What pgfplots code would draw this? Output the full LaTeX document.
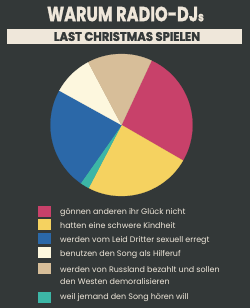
\documentclass[border=0pt]{standalone}
\usepackage{pgfplots}
\pgfplotsset{compat=1.18}
\usepackage{fontspec}
\setmainfont{Poppins}
\newfontfamily\titlefont{Poppins}[FakeBold=1.5]
\definecolor{bg}{HTML}{333838}
\definecolor{fg}{HTML}{EFE7DA}
\definecolor{piepink}{HTML}{C8416A}
\definecolor{pieyellow}{HTML}{F5D260}
\definecolor{pieteal}{HTML}{3CB6A6}
\definecolor{pieblue}{HTML}{2B68A8}
\definecolor{piecream}{HTML}{FDF7DE}
\definecolor{pietan}{HTML}{D7BE99}
\begin{document}
\begin{tikzpicture}
\begin{scope}[x=1bp,y=1bp]
\fill[bg] (0,0) rectangle (250,308);
% title
\node[text=fg, font=\titlefont\bfseries\fontsize{20.5}{20.5}\selectfont, inner sep=0] at (125.5,294) {\scalebox{0.79}[1]{WARUM RADIO-DJ\fontsize{13}{13}\selectfont s}};
\fill[fg] (7,264) rectangle (242,279);
\node[text=bg, font=\titlefont\bfseries\fontsize{12.5}{12.5}\selectfont, inner sep=0] at (127,271.5) {\scalebox{0.93}[1]{LAST CHRISTMAS SPIELEN}};
% legend
\foreach \c/\y in {piepink/96.5, pieyellow/83, pieblue/69, piecream/55, pietan/39.5, pieteal/11} {
  \fill[\c] (38,\y-5.5) rectangle (51,\y+5.5);
}
\begin{scope}[every node/.style={anchor=west, inner sep=0, text=fg, font=\fontsize{8}{9}\selectfont, text height=1.5ex, text depth=.3ex}]
\node at (60,96.3) {gönnen anderen ihr Glück nicht};
\node at (60,83) {hatten eine schwere Kindheit};
\node at (60,68.7) {werden vom Leid Dritter sexuell erregt};
\node at (60,54.7) {benutzen den Song als Hilferuf};
\node at (60,39) {werden von Russland bezahlt und sollen};
\node at (60,26.3) {den Westen demoralisieren};
\node at (60,11.3) {weil jemand den Song hören will};
\end{scope}
\end{scope}
% pie
\begin{axis}[at={(121.5bp,183bp)}, anchor=center, width=142bp, height=142bp, scale only axis,
  hide axis, xmin=-1, xmax=1, ymin=-1, ymax=1, clip=false]
\gdef\startangle{65}
\foreach \p/\c in {26.4/piepink, 24.3/pieyellow, 2.1/pieteal, 23.3/pieblue, 9.2/piecream, 14.7/pietan} {
  \pgfmathsetmacro\endangle{\startangle - 3.6*\p}
  \edef\temp{\noexpand\addplot[fill=\c, draw=\c, line width=0.2pt, domain=\endangle:\startangle, samples=60, variable=\noexpand\t] ({cos(\noexpand\t)},{sin(\noexpand\t)}) -- (axis cs:0,0) -- cycle;}
  \temp
  \global\let\startangle\endangle
}
\end{axis}
\end{tikzpicture}
\end{document}
